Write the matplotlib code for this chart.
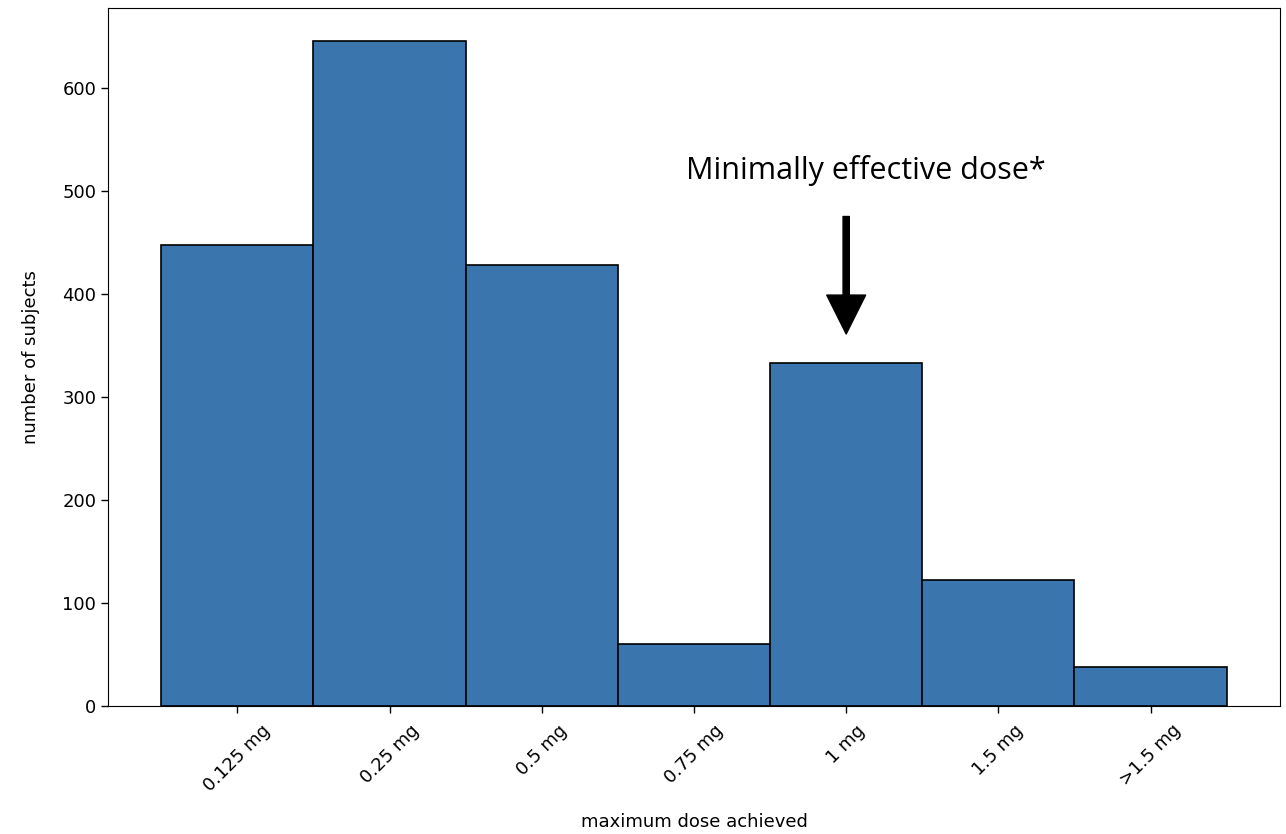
import matplotlib
matplotlib.use("Agg")
import matplotlib.pyplot as plt
import numpy as np

doses  = ["0.125 mg", "0.25 mg", "0.5 mg", "0.75 mg", "1 mg", "1.5 mg", ">1.5 mg"]
counts = [447, 645, 428, 60, 333, 122, 38]

fig = plt.figure(figsize=(12.86, 8.34), dpi=100)
ax = fig.add_axes([0.084, 0.1535, 0.9113, 0.8365])

x = np.arange(len(doses))
ax.bar(x, counts, width=1.0, color="#3A75AE", edgecolor="black", linewidth=1.2)

ax.set_xticks(x)
ax.set_xticklabels(doses, rotation=45, ha="center", fontsize=13)
ax.tick_params(axis="y", labelsize=13)
ax.tick_params(length=5, width=1)
ax.tick_params(axis="x", pad=6)
ax.set_yticks([0, 100, 200, 300, 400, 500, 600])
ax.set_ylim(0, 677)
ax.set_xlabel("maximum dose achieved", fontsize=13, labelpad=13)
ax.set_ylabel("number of subjects", fontsize=13, labelpad=16)

# annotation for the 1 mg bar
ax.text(4.13, 520, "Minimally effective dose*", fontsize=22,
        family=["Open Sans", "DejaVu Sans"], ha="center", va="center")
ax.annotate("", xy=(4, 361), xytext=(4, 475),
            arrowprops=dict(facecolor="black", edgecolor="black",
                            width=4.5, headwidth=28, headlength=28, shrink=0))

fig.savefig("out.png", dpi=100)
